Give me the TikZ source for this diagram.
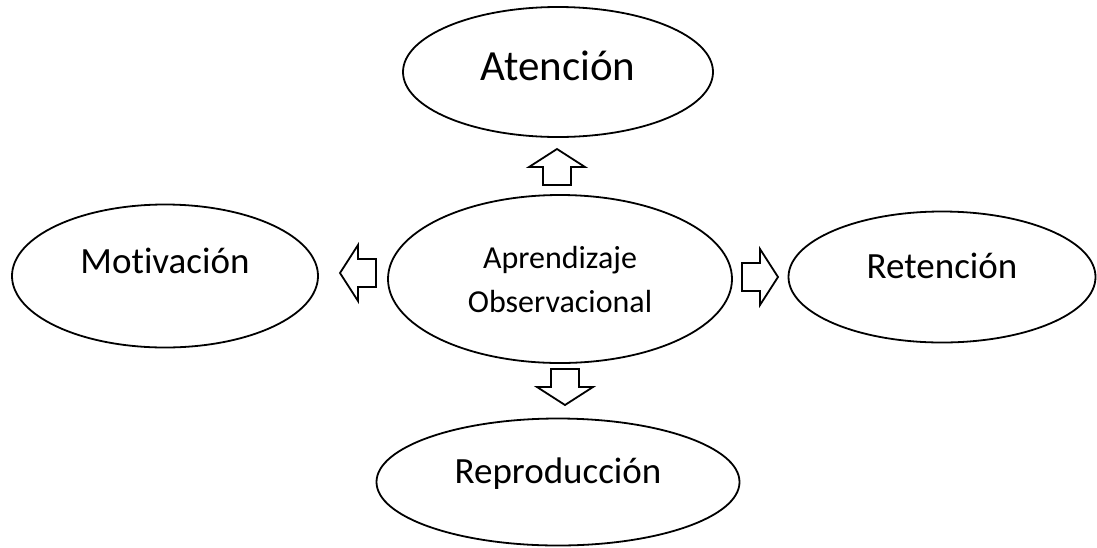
\documentclass[tikz,border=0pt]{standalone}
\usepackage{fontspec}
\setmainfont[Ligatures=NoCommon]{Carlito}
\usetikzlibrary{shapes.geometric}
\tikzset{
  bubble/.style={ellipse, draw, line width=1.8pt, inner sep=0pt},
  hollow/.style={draw, line width=1.8pt, line join=miter, fill=white},
  fatarrow/.pic={\draw[hollow] (-18,-14)--(0,-14)--(0,-28)--(18,0)--(0,28)--(0,14)--(-18,14)--cycle;}
}
\begin{document}
\begin{tikzpicture}[x=1pt,y=-1pt]
  \useasboundingbox (0,0) rectangle (1097,547);
  % central idea and the four processes round it
  \node[bubble, minimum width=344pt, minimum height=168pt, align=center,
        font=\fontsize{32}{44}\selectfont] (obs) at (560,279) {Aprendizaje\\Observacional};
  \node[bubble, minimum width=310pt, minimum height=130pt, text height=30pt, text depth=14pt,
        font=\fontsize{43}{50}\selectfont] (aten) at (558,72) {Atención};
  \node[bubble, minimum width=306pt, minimum height=143pt, text height=26pt, text depth=32pt,
        font=\fontsize{37}{44}\selectfont] (mot) at (165,276) {Motivación};
  \node[bubble, minimum width=307pt, minimum height=131pt, text height=26pt, text depth=24pt,
        font=\fontsize{37}{44}\selectfont] (ret) at (942,277) {Retención};
  \node[bubble, minimum width=363pt, minimum height=127pt, text height=26pt, text depth=24pt,
        font=\fontsize{37}{44}\selectfont] (rep) at (558,482) {Reproducción};
  % hollow block arrows
  \pic[rotate=90] at (557,167) {fatarrow};
  \pic[rotate=180] at (358,273) {fatarrow};
  \pic at (760,277) {fatarrow};
  \pic[rotate=-90] at (565,387) {fatarrow};
\end{tikzpicture}
\end{document}
